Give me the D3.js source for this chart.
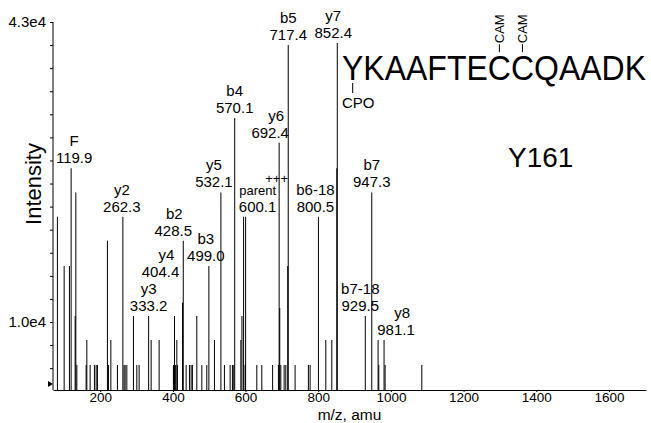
<!DOCTYPE html>
<html lang="en">
<head>
<meta charset="UTF-8">
<script src="https://d3js.org/d3.v7.min.js"></script>
<style>
  body { margin: 0; background: #fff; }
  svg { display: block; }
  text { font-family: "Liberation Sans", Arial, sans-serif; fill: #000; }
  .peak { stroke: #000; stroke-width: 1px; }
  .axis path, .axis line { stroke: #000; stroke-width: 1px; }
</style>
</head>
<body>
<div id="chart"></div>
<script>
// peaks: m/z and intensity (counts)
const peakMz = [82.2, 100.7, 115.2, 119.9, 130.9, 132.9, 135.6, 161.2, 163.1, 172.2,
  184.0, 188.7, 192.3, 219.8, 222.6, 229.2, 247.3, 262.3, 265.5, 268.5,
  273.2, 291.4, 300.7, 307.0, 333.2, 340.1, 362.1, 401.4, 402.5, 404.4,
  407.5, 410.8, 412.4, 426.5, 428.5, 436.4, 445.5, 450.1, 453.7, 465.8,
  479.6, 493.3, 499.0, 514.3, 532.1, 541.8, 557.5, 563.8, 567.5, 570.1,
  587.0, 590.0, 594.5, 598.7, 600.1, 630.9, 644.7, 674.4, 690.4, 692.4,
  694.0, 697.0, 706.1, 710.7, 716.0, 717.4, 736.3, 772.9, 777.6, 800.5,
  820.8, 837.3, 851.0, 852.4, 929.5, 947.3, 964.7, 966.6, 981.1, 984.0,
  1085.0];
const peakInt = [21580, 16160, 16160, 26910, 10660, 24250, 5270, 5270, 8020, 5270,
  5270, 5270, 5270, 18940, 5270, 8020, 5270, 21580, 5270, 5270,
  5270, 10660, 5270, 5270, 10660, 8020, 8020, 5270, 5270, 10660,
  5270, 8020, 5270, 12120, 18940, 5270, 5270, 5270, 5270, 10660,
  5270, 5270, 16160, 8020, 24250, 5270, 5270, 5270, 5270, 32440,
  8020, 10660, 21580, 5270, 21580, 5270, 5270, 5270, 5270, 29720,
  11540, 5270, 5270, 5270, 16160, 40470, 5270, 5270, 5270, 21580,
  8020, 8020, 26910, 40690, 10660, 24250, 8020, 5270, 8020, 5270,
  5270];

// labelled fragment ions
const ionNames = ["F", "y2", "y3", "y4", "b2", "b3", "y5", "b4", "parent", "y6",
  "b5", "b6-18", "y7", "b7-18", "b7", "y8"];
const ionMz = [119.9, 262.3, 333.2, 404.4, 428.5, 499.0, 532.1, 570.1, 600.1, 692.4,
  717.4, 800.5, 852.4, 929.5, 947.3, 981.1];

const xTicks = [200, 400, 600, 800, 1000, 1200, 1400, 1600];
const yTickValues = [43000, 10000];
const yTickLabels = ["4.3e4", "1.0e4"];

const peptide = "YKAAFTECCQAADK";
const camSites = [7, 8];      // the two C residues carrying CAM
const cpoSite = 0;            // Y carrying CPO
const peptideTag = "Y161";

// label placement tweaks [dx, dy, name dx] in px
const labelShift = {
  "F": [3, 0, 0], "y2": [-1, 0, 0], "y4": [-14, -34, 6], "b2": [-10, 0, 1],
  "b3": [-3, 0, 0], "y5": [-7, 0, 0], "parent": [12, 0, 0], "y6": [-9, 0, 6],
  "y7": [-4, 0, 0], "b6-18": [-3, 0, 0], "b7-18": [-5, 0, 0], "y8": [12, 0, 6]
};

const W = 651, H = 423;
const svg = d3.select("#chart").append("svg").attr("width", W).attr("height", H);

const x = d3.scaleLinear().domain([70, 1702]).range([53, 646]);
const y = d3.scaleLinear().domain([2520, 43000]).range([390, 22]);

// axes
const minorY = d3.range(43000, 2520, -33000 / 13);
const yAxis = d3.axisLeft(y).tickValues(minorY).tickSize(3).tickSizeOuter(0)
  .tickFormat(d => {
    const i = yTickValues.findIndex(v => Math.abs(v - d) < 1);
    return i >= 0 ? yTickLabels[i] : "";
  });
const gy = svg.append("g").attr("class", "axis").attr("transform", `translate(${x.range()[0]},0)`).call(yAxis);
gy.select(".domain").attr("d", `M0,${y.range()[1]}V${y.range()[0]}`);
gy.selectAll("text").style("font-size", "15px").attr("x", -7);

const xAxis = d3.axisBottom(x).tickValues(xTicks).tickFormat(d3.format("d"))
  .tickSize(2).tickSizeOuter(0).tickPadding(0);
const gx = svg.append("g").attr("class", "axis").attr("transform", `translate(0,${y.range()[0]})`).call(xAxis);
gx.selectAll("text").style("font-size", "13.5px");

// small marker at the axis origin
const x0 = x.range()[0], y0 = y.range()[0];
svg.append("path").attr("d", `M${x0 - 5},${y0 - 9}L${x0},${y0 - 6}L${x0 - 5},${y0 - 3}Z`).attr("fill", "#000");

svg.append("text").attr("x", (x.range()[0] + x.range()[1]) / 2).attr("y", 419.5)
  .attr("text-anchor", "middle").style("font-size", "15.5px").text("m/z, amu");
svg.append("text").attr("transform", "translate(41,184) rotate(-90)")
  .attr("text-anchor", "middle").style("font-size", "22px").text("Intensity");

// peaks
svg.append("g").selectAll("line").data(peakMz).join("line")
  .attr("class", "peak")
  .attr("x1", d => x(d)).attr("x2", d => x(d))
  .attr("y1", y0).attr("y2", (d, i) => y(peakInt[i]));

// labels
const labels = svg.append("g");
ionNames.forEach((name, k) => {
  const mz = ionMz[k];
  const i = peakMz.indexOf(mz);
  const px = x(mz), top = y(peakInt[i]);
  const [dx, dy, ndx] = labelShift[name] || [0, 0, 0];
  const cx = px + dx, base = top - 5 + dy;
  labels.append("text").attr("x", cx).attr("y", base).attr("text-anchor", "middle")
    .style("font-size", "15px").text(mz.toFixed(1));
  labels.append("text").attr("x", cx + ndx).attr("y", base - 17)
    .attr("text-anchor", "middle").style("font-size", name === "parent" ? "13px" : "15px").text(name);
  if (name === "parent") {
    labels.append("text").attr("x", cx + 19).attr("y", base - 29)
      .attr("text-anchor", "middle").style("font-size", "13px").text("+++");
  }
});

// peptide sequence with modifications (slightly stretched vertically)
const pepX = 342, pepY = 80, pepSize = 32, stretch = 1.12;
const pep = svg.append("text").attr("transform", `translate(${pepX},${pepY}) scale(1,${stretch})`)
  .style("font-size", pepSize + "px").text(peptide);
const node = pep.node();
const capH = pepSize * 0.72 * stretch;
const centerOf = i => pepX + node.getSubStringLength(0, i) + node.getSubStringLength(i, 1) / 2;

camSites.forEach(i => {
  const cx = centerOf(i);
  svg.append("line").attr("x1", cx).attr("x2", cx).attr("y1", pepY - capH - 2).attr("y2", pepY - capH - 10)
    .attr("stroke", "#000");
  svg.append("text").attr("transform", `translate(${cx + 4.5},${pepY - capH - 11}) rotate(-90)`)
    .style("font-size", "13px").text("CAM");
});

const cpo = centerOf(cpoSite);
svg.append("line").attr("x1", cpo).attr("x2", cpo).attr("y1", pepY + 3).attr("y2", pepY + 13).attr("stroke", "#000");
svg.append("text").attr("x", pepX).attr("y", pepY + 28).style("font-size", "15px").text("CPO");

svg.append("text").attr("x", 508).attr("y", 167).style("font-size", "28px").text(peptideTag);
</script>
</body>
</html>
